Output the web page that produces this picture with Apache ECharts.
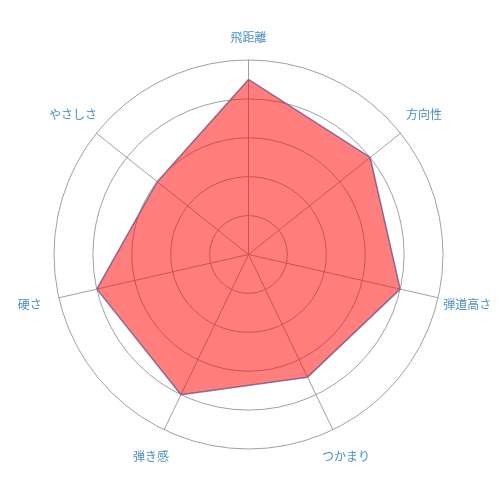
<!DOCTYPE html>
<html lang="ja">
  <head>
    <meta charset="UTF-8" />
    <title>radar</title>
    <style>
      html, body { margin: 0; padding: 0; background: #fff; }
      #chart { width: 500px; height: 500px; }
    </style>
  </head>
  <body>
    <div id="chart"></div>
    <script src="https://cdn.jsdelivr.net/npm/echarts@6/dist/echarts.min.js"></script>
    <script>
      // 項目（時計回り、上から）
      const labels = ["飛距離", "方向性", "弾道高さ", "つかまり", "弾き感", "硬さ", "やさしさ"];
      const scores = [4.5, 4.0, 4.0, 3.5, 4.0, 4.0, 3.0];
      const maxScore = 5;

      // echartsのradarは反時計回りなので先頭以外を逆順にする
      const order = [0].concat(labels.map((_, i) => i).slice(1).reverse());
      const indicator = order.map((i) => ({ name: labels[i], max: maxScore, min: 0 }));
      const values = order.map((i) => scores[i]);

      let mchart = echarts.init(document.getElementById("chart"));
      let option = {
        animation: false,
        radar: {
          center: ["49.7%", "50.9%"],
          radius: "77.8%",
          shape: "circle",
          splitNumber: 5,
          startAngle: 90,
          indicator: indicator,
          nameGap: 30,
          axisName: {
            color: "#4a8fc2",
            fontSize: 12,
            fontFamily: "Noto Sans CJK JP",
            align: "center",
            verticalAlign: "middle",
            // 上の項目だけ少し下げる
            formatter: (name) => (name === labels[0] ? "{top|" + name + "}" : name),
            rich: {
              top: {
                color: "#4a8fc2",
                fontSize: 12,
                fontFamily: "Noto Sans CJK JP",
                padding: [15, 0, 0, 0],
              },
            },
          },
          axisLine: { lineStyle: { color: "#a0a0a0", width: 1 } },
          splitLine: { lineStyle: { color: "#a0a0a0", width: 1 } },
          splitArea: { show: false },
        },
        series: [
          {
            type: "radar",
            symbol: "none",
            data: [
              {
                value: values,
                lineStyle: { color: "#6a8ec4", width: 1.5, opacity: 1 },
                areaStyle: { color: "#ff0000", opacity: 0.5 },
              },
            ],
          },
        ],
      };
      mchart.setOption(option);
    </script>
  </body>
</html>
